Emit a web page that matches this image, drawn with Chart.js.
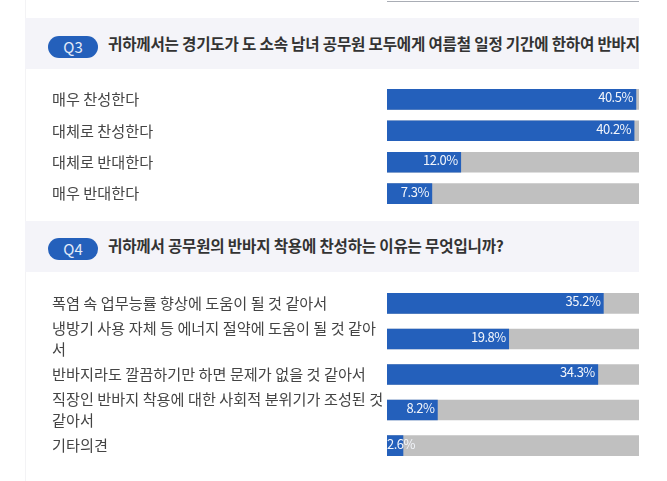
<!DOCTYPE html>
<html>
<head>
<meta charset="utf-8">
<title>Q3 Q4</title>
<script src="https://cdn.jsdelivr.net/npm/chart.js"></script>
<style>
    html, body { margin: 0; height: 100%; background: #fff; overflow: hidden; }
    body { font-family: "Noto Sans CJK KR", sans-serif; }
    #leftline { position: absolute; left: 25px; top: 0; width: 1px; height: 481px; background: #f3f3f5; }
    #topline { position: absolute; left: 387px; top: 1px; width: 252px; height: 1px; background: #a9adb5; }
    .band { position: absolute; left: 25px; width: 614px; height: 51px; background: #f4f4f9; overflow: hidden; white-space: nowrap; }
    .pill { position: absolute; left: 23px; top: 18px; width: 50px; height: 22px; border-radius: 11px; background: #2460bb; color: #e4ecf8; font-size: 15px; line-height: 22px; text-align: center; }
    .title { position: absolute; left: 83px; top: 15px; font-size: 15.6px; line-height: 20px; font-weight: 700; color: #333; letter-spacing: -0.2px; }
    .box { position: absolute; left: 52px; width: 587px; }
</style>
</head>
<body>
    <div id="leftline"></div>
    <div id="topline"></div>

    <div class="band" style="top: 18px;">
        <div class="pill">Q3</div>
        <div class="title">귀하께서는 경기도가 도 소속 남녀 공무원 모두에게 여름철 일정 기간에 한하여 반바지</div>
    </div>
    <div class="box" style="top: 73px; height: 147px;"><canvas id="chartQ3"></canvas></div>

    <div class="band" style="top: 221px;">
        <div class="pill" style="top: 17px;">Q4</div>
        <div class="title" style="top: 14px;">귀하께서 공무원의 반바지 착용에 찬성하는 이유는 무엇입니까?</div>
    </div>
    <div class="box" style="top: 275px; height: 199px;"><canvas id="chartQ4"></canvas></div>

    <script>
        // Q3 data
        const q3Labels = ['매우 찬성한다', '대체로 찬성한다', '대체로 반대한다', '매우 반대한다'];
        const q3Values = [40.5, 40.2, 12.0, 7.3];
        const q3Track = [41, 41, 41, 41];

        // Q4 data
        const q4Labels = [
            '폭염 속 업무능률 향상에 도움이 될 것 같아서',
            ['냉방기 사용 자체 등 에너지 절약에 도움이 될 것 같아', '서'],
            '반바지라도 깔끔하기만 하면 문제가 없을 것 같아서',
            ['직장인 반바지 착용에 대한 사회적 분위기가 조성된 것', '같아서'],
            '기타의견'
        ];
        const q4Values = [35.2, 19.8, 34.3, 8.2, 2.6];
        const q4Track = [41, 41, 41, 41, 41];

        const axisMax = 41;
        const fontName = '"Noto Sans CJK KR", sans-serif';

        // white percent text inside the end of each blue bar
        const percentLabels = {
            id: 'percentLabels',
            afterDatasetsDraw(chart) {
                const ctx = chart.ctx;
                const bars = chart.getDatasetMeta(1).data;
                const values = chart.data.datasets[1].data;
                ctx.save();
                ctx.font = '13px ' + fontName;
                ctx.letterSpacing = '-0.5px';
                ctx.fillStyle = '#f2f5fb';
                ctx.textAlign = 'right';
                ctx.textBaseline = 'middle';
                bars.forEach(function (bar, i) {
                    const text = values[i].toFixed(1) + '%';
                    const minX = chart.chartArea.left + ctx.measureText(text).width;
                    ctx.fillText(text, Math.max(bar.x - 3, minX), bar.y - 2);
                });
                ctx.restore();
            }
        };

        function drawChart(id, labels, values, track) {
            const canvas = document.getElementById(id);
            return new Chart(canvas.getContext('2d'), {
                type: 'bar',
                data: {
                    labels: labels,
                    datasets: [
                        { data: track, backgroundColor: '#c0c0c0', barThickness: 20, grouped: false, order: 2 },
                        { data: values, backgroundColor: '#2460bb', barThickness: 20, grouped: false, order: 1 }
                    ]
                },
                options: {
                    indexAxis: 'y',
                    responsive: true,
                    maintainAspectRatio: false,
                    animation: false,
                    layout: { padding: 0 },
                    plugins: { legend: { display: false }, tooltip: { enabled: false } },
                    scales: {
                        x: { display: false, min: 0, max: axisMax },
                        y: {
                            afterFit(scale) { scale.width = 335; },
                            border: { display: false },
                            grid: { display: false, drawTicks: false },
                            ticks: {
                                crossAlign: 'far',
                                autoSkip: false,
                                padding: 0,
                                color: '#444',
                                font: { family: fontName, size: 15.2, lineHeight: 1.4 }
                            }
                        }
                    }
                },
                plugins: [percentLabels]
            });
        }

        drawChart('chartQ3', q3Labels, q3Values, q3Track);
        drawChart('chartQ4', q4Labels, q4Values, q4Track);
    </script>
</body>
</html>
